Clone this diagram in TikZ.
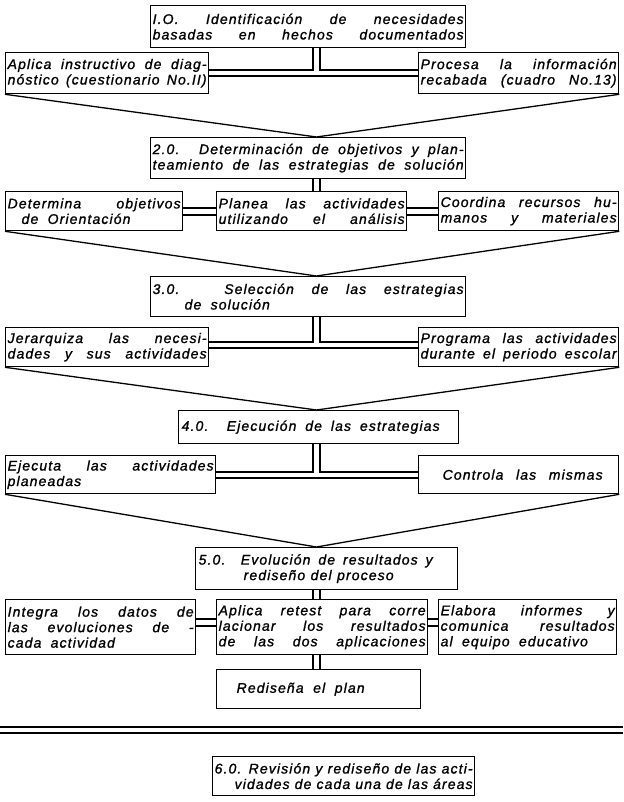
\documentclass[tikz,border=0pt]{standalone}
\usepackage{fontspec}
\setmainfont{Liberation Sans}[LetterSpace=8, ItalicFeatures={FakeBold=1.2}]
\usetikzlibrary{calc}
\tikzset{
  box/.style={draw, line width=1.3pt, inner xsep=2pt, inner ysep=0pt, anchor=north west, align=left, font=\itshape\fontsize{14}{15.5}\selectfont},
  conn/.style={line width=1.3pt},
  funnel/.style={line width=1.3pt, line join=miter},
}
\newcommand{\fl}[1]{{\spaceskip=0pt\xspaceskip=0pt\makebox[\linewidth][s]{#1}}}
\newcommand{\fli}[2]{\hspace*{#1}{\spaceskip=0pt\xspaceskip=0pt\makebox[\dimexpr\linewidth-#1\relax][s]{#2}}}
\newcommand{\flw}[3]{\hspace*{#1}{\spaceskip=0pt\xspaceskip=0pt\makebox[#2][s]{#3}}}
\begin{document}
\begin{tikzpicture}[x=1pt,y=-1pt]
\useasboundingbox (0,0) rectangle (623,802);
% helper coordinates
\coordinate (cL) at (313,0);
\coordinate (cR) at (320,0);
\coordinate (cM) at (316.5,0);
% ---------- level 1
\node[box, minimum width=315pt, minimum height=42pt, text width=311pt] (n1) at (150,5)
  {\fl{I.O. Identificación de necesidades}\\ \fl{basadas en hechos documentados}};
\node[box, minimum width=203pt, minimum height=41pt, text width=199pt] (a1) at (5,52)
  {\fl{Aplica instructivo de diag-}\\ \fl{nóstico (cuestionario No.II)}};
\node[box, minimum width=200pt, minimum height=41pt, text width=196pt] (b1) at (418,52)
  {\fl{Procesa la información}\\ \fl{recabada (cuadro No.13)}};
\coordinate (h1a) at (0,70); \coordinate (h1b) at (0,76);
\draw[conn] (n1.south -| cL) |- (a1.east |- h1a);
\draw[conn] (n1.south -| cR) |- (b1.west |- h1a);
\draw[conn] (a1.east |- h1b) -- (b1.west |- h1b);
% ---------- level 2
\node[box, minimum width=315pt, minimum height=41pt, text width=311pt] (n2) at (150,137)
  {\fl{2.0. Determinación de objetivos y plan-}\\ \fl{teamiento de las estrategias de solución}};
\draw[funnel] (a1.south west) -- (n2.north -| cM) -- (b1.south east);
\node[box, minimum width=177pt, minimum height=39pt, text width=173pt] (c2) at (5,191)
  {\fl{Determina objetivos}\\ \hspace*{14pt}de\ \ Orientación};
\node[box, minimum width=190pt, minimum height=39pt, text width=186pt] (d2) at (216,191)
  {\fl{Planea las actividades}\\ \fl{utilizando el análisis}};
\node[box, minimum width=180pt, minimum height=39pt, text width=176pt] (e2) at (438,191)
  {\fl{Coordina recursos hu-}\\ \fl{manos y materiales}};
\coordinate (h2a) at (0,208); \coordinate (h2b) at (0,215);
\draw[conn] (n2.south -| cL) -- (d2.north -| cL);
\draw[conn] (n2.south -| cR) -- (d2.north -| cR);
\draw[conn] (c2.east |- h2a) -- (d2.west |- h2a);
\draw[conn] (c2.east |- h2b) -- (d2.west |- h2b);
\draw[conn] (d2.east |- h2a) -- (e2.west |- h2a);
\draw[conn] (d2.east |- h2b) -- (e2.west |- h2b);
% ---------- level 3
\node[box, minimum width=315pt, minimum height=40pt, text width=311pt] (n3) at (150,276)
  {\fl{3.0. Selección de las estrategias}\\ \hspace*{32pt}de\ \ solución};
\draw[funnel] (c2.south west) -- (n3.north -| cM) -- (e2.south east);
\node[box, minimum width=203pt, minimum height=39pt, text width=199pt] (f3) at (5,327)
  {\fl{Jerarquiza las necesi-}\\ \fl{dades y sus actividades}};
\node[box, minimum width=200pt, minimum height=39pt, text width=196pt] (g3) at (418,327)
  {\fl{Programa las actividades}\\ \fl{durante el periodo escolar}};
\coordinate (h3a) at (0,342); \coordinate (h3b) at (0,348);
\draw[conn] (n3.south -| cL) |- (f3.east |- h3a);
\draw[conn] (n3.south -| cR) |- (g3.west |- h3a);
\draw[conn] (f3.east |- h3b) -- (g3.west |- h3b);
% ---------- level 4
\node[box, minimum width=280pt, minimum height=33pt, text width=276pt] (n4) at (178,410)
  {\flw{1pt}{258pt}{4.0. Ejecución de las estrategias}};
\draw[funnel] (f3.south west) -- (n4.north -| cM) -- (g3.south east);
\node[box, minimum width=210pt, minimum height=38pt, text width=206pt] (h4) at (5,455)
  {\fl{Ejecuta las actividades}\\ planeadas};
\node[box, minimum width=200pt, minimum height=38pt, text width=196pt] (i4) at (418,455)
  {\flw{22pt}{160pt}{Controla las mismas}};
\coordinate (h4a) at (0,472); \coordinate (h4b) at (0,478);
\draw[conn] (n4.south -| cL) |- (h4.east |- h4a);
\draw[conn] (n4.south -| cR) |- (i4.west |- h4a);
\draw[conn] (h4.east |- h4b) -- (i4.west |- h4b);
% ---------- level 5
\node[box, minimum width=262pt, minimum height=42pt, text width=258pt] (n5) at (195,547)
  {\flw{1pt}{234pt}{5.0. Evolución de resultados y}\\ \flw{46pt}{150pt}{rediseño del proceso}};
\draw[funnel] (h4.south west) -- (n5.north -| cM) -- (i4.south east);
\node[box, minimum width=190pt, minimum height=55pt, text width=186pt] (j5) at (5,599)
  {\fl{Integra los datos de}\\ \fl{las evoluciones de -}\\ cada\ \ actividad};
\node[box, minimum width=211pt, minimum height=55pt, text width=207pt] (k5) at (216,599)
  {\fl{Aplica retest para corre}\\ \fl{lacionar los resultados}\\ \fl{de las dos aplicaciones}};
\node[box, minimum width=178pt, minimum height=55pt, text width=174pt] (l5) at (438,599)
  {\fl{Elabora informes y}\\ \fl{comunica resultados}\\ al\ \ equipo\ \ educativo};
\coordinate (h5a) at (0,619); \coordinate (h5b) at (0,626);
\draw[conn] (n5.south -| cL) -- (k5.north -| cL);
\draw[conn] (n5.south -| cR) -- (k5.north -| cR);
\draw[conn] (j5.east |- h5a) -- (k5.west |- h5a);
\draw[conn] (j5.east |- h5b) -- (k5.west |- h5b);
\draw[conn] (k5.east |- h5a) -- (l5.west |- h5a);
\draw[conn] (k5.east |- h5b) -- (l5.west |- h5b);
\node[box, minimum width=204pt, minimum height=39pt, text width=200pt] (m5) at (216,669)
  {\flw{18pt}{128pt}{Rediseña el plan}};
\draw[conn] (k5.south -| cL) -- (m5.north -| cL);
\draw[conn] (k5.south -| cR) -- (m5.north -| cR);
% ---------- separator
\coordinate (sL) at (0,727); \coordinate (sR) at (623,727);
\draw[conn] (sL) -- (sR);
\draw[conn] ($(sL)+(0,6)$) -- ($(sR)+(0,6)$);
% ---------- level 6
\node[box, minimum width=262pt, minimum height=39pt, text width=258pt] (n6) at (212,756)
  {\fl{6.0. Revisión y rediseño de las acti-}\\ \fli{20pt}{vidades de cada una de las áreas}};
\end{tikzpicture}
\end{document}
